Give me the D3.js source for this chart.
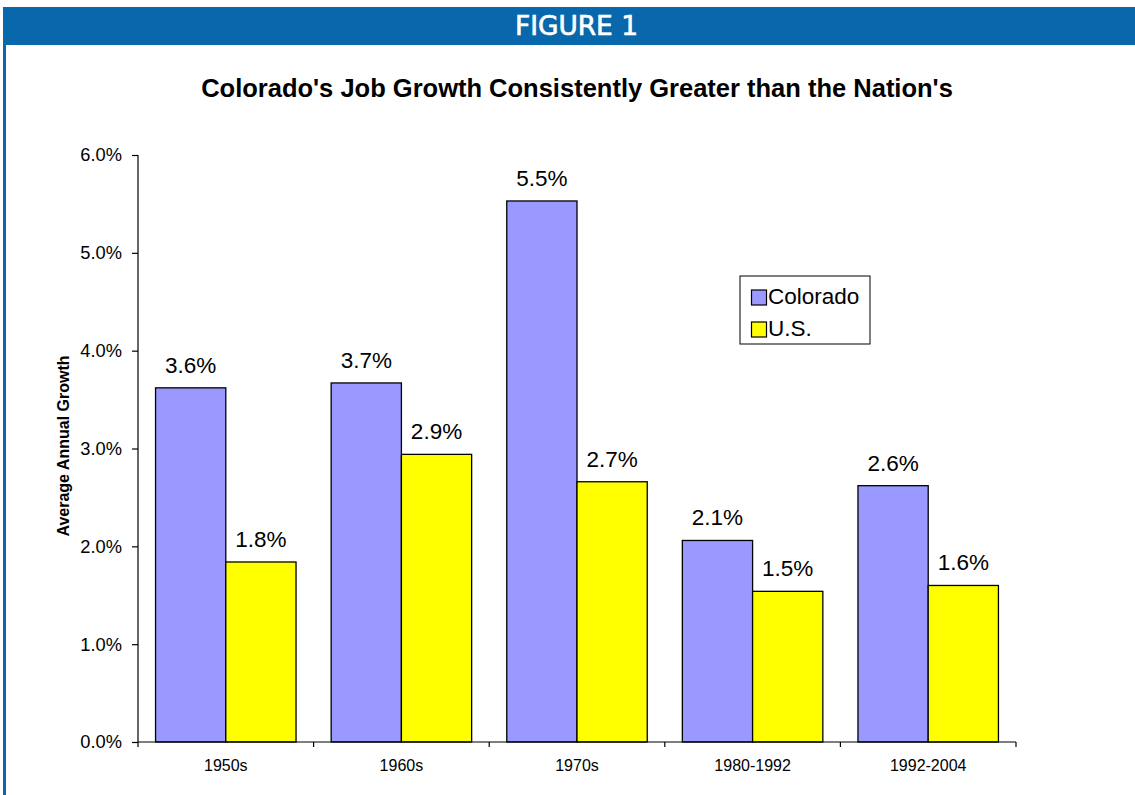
<!DOCTYPE html>
<html><head><meta charset="utf-8">
<script src="https://cdn.jsdelivr.net/npm/d3@7"></script>
<style>body{margin:0;background:#fff}svg{display:block}</style>
</head><body>
<script>
const categories = ["1950s","1960s","1970s","1980-1992","1992-2004"];
const seriesNames = ["Colorado","U.S."];
const colorado = [3.62, 3.67, 5.53, 2.06, 2.62];
const us = [1.84, 2.94, 2.66, 1.54, 1.60];
const yTicks = [0,1,2,3,4,5,6];
const colors = ["#9999FF","#FFFF00"];

const W=1135,H=795;
const FONT="'Liberation Sans',Arial,sans-serif";
const svg=d3.select("body").append("svg").attr("width",W).attr("height",H);
// header
svg.append("rect").attr("x",3).attr("y",7).attr("width",W-3).attr("height",38).attr("fill","#0868AB");
svg.append("rect").attr("x",3).attr("y",45).attr("width",3).attr("height",H-45).attr("fill","#0868AB");
svg.append("text").attr("x",515).attr("y",35)
  .attr("font-family","'DejaVu Sans Condensed','DejaVu Sans',sans-serif").attr("font-weight","normal").attr("font-size",26)
  .attr("textLength",123).attr("lengthAdjust","spacingAndGlyphs")
  .attr("fill","#fff").attr("stroke","#fff").attr("stroke-width",0.6).text("FIGURE 1");
svg.append("text").attr("x",577).attr("y",97).attr("text-anchor","middle")
  .attr("font-family",FONT).attr("font-weight","bold").attr("font-size",25.5)
  .text("Colorado's Job Growth Consistently Greater than the Nation's");

const x0=d3.scaleBand().domain(categories).range([138,1016]).paddingInner(0).paddingOuter(0);
const x1=d3.scaleBand().domain(seriesNames).range([x0.bandwidth()*0.1,x0.bandwidth()*0.9]);
const y=d3.scaleLinear().domain([0,6]).range([742,155]);

const data=categories.map((c,i)=>({cat:c,vals:[{s:"Colorado",v:colorado[i]},{s:"U.S.",v:us[i]}]}));
const g=svg.append("g");
const grp=g.selectAll("g.grp").data(data).join("g").attr("transform",d=>`translate(${x0(d.cat)},0)`);
grp.selectAll("rect").data(d=>d.vals).join("rect")
  .attr("x",d=>x1(d.s)).attr("width",x1.bandwidth()).attr("y",d=>y(d.v)).attr("height",d=>y(0)-y(d.v))
  .attr("fill",(d,i)=>colors[i]).attr("stroke","#000").attr("stroke-width",1.3);
grp.selectAll("text").data(d=>d.vals).join("text")
  .attr("x",d=>x1(d.s)+x1.bandwidth()/2).attr("y",d=>y(d.v)-15).attr("text-anchor","middle")
  .attr("font-family",FONT).attr("font-size",22.5)
  .text(d=>d.v.toFixed(1)+"%");

// y axis
const ya=svg.append("g").attr("transform","translate(138,0)")
  .call(d3.axisLeft(y).tickValues(yTicks).tickSize(6).tickPadding(10).tickFormat(d=>d.toFixed(1)+"%"));
ya.selectAll("text").attr("font-family",FONT).attr("font-size",18.3).attr("fill","#000");
ya.select(".domain").attr("d","M0,155V742");
ya.selectAll("line,path").attr("stroke","#000").attr("stroke-width",1.2);

// x axis
const xa=svg.append("g").attr("transform","translate(0,742)")
  .call(d3.axisBottom(x0).tickSize(0).tickPadding(18));
xa.selectAll("text").attr("font-family",FONT).attr("font-size",16).attr("fill","#000");
xa.select(".domain").attr("d","M138,0H1016");
xa.selectAll("path").attr("stroke","#000").attr("stroke-width",1.2);
const bounds=categories.map(c=>x0(c)).concat([x0.range()[1]]);
xa.selectAll("line.b").data(bounds).join("line").attr("class","b")
  .attr("x1",d=>d).attr("x2",d=>d).attr("y1",0).attr("y2",5).attr("stroke","#000").attr("stroke-width",1.2);

svg.append("text").attr("transform","translate(69,446) rotate(-90)").attr("text-anchor","middle")
  .attr("font-family",FONT).attr("font-weight","bold").attr("font-size",16)
  .text("Average Annual Growth");

// legend
const lg=svg.append("g").attr("transform","translate(740,276)");
lg.append("rect").attr("width",130).attr("height",68).attr("fill","#fff").attr("stroke","#000").attr("stroke-width",1);
seriesNames.forEach((s,i)=>{
  lg.append("rect").attr("x",11.5).attr("y",14+i*32).attr("width",15).attr("height",15).attr("fill",colors[i]).attr("stroke","#000").attr("stroke-width",1.2);
  lg.append("text").attr("x",28).attr("y",28+i*32).attr("font-family",FONT).attr("font-size",22.5).text(s);
});
</script>
</body></html>
